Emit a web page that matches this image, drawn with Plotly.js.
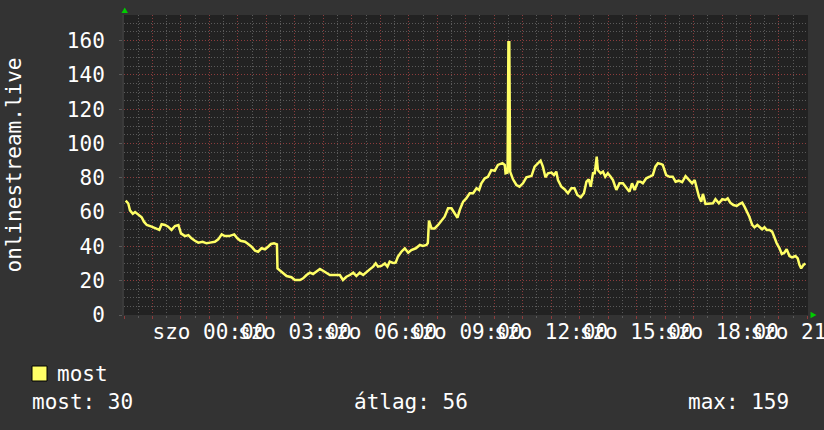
<!DOCTYPE html>
<html>
<head>
<meta charset="utf-8">
<script src="https://cdn.plot.ly/plotly-3.0.1.min.js"></script>
<style>
html,body{margin:0;padding:0;background:#333333;}
#chart{width:824px;height:430px;}
</style>
</head>
<body>
<div id="chart"></div>
<script>
// Time in hours relative to Saturday 00:00 (negative = Friday evening)
const hours = [
-2.94,-2.85,-2.79,-2.69,-2.61,-2.53,-2.46,-2.38,-2.30,-2.20,-2.03,-1.85,-1.76,-1.68,-1.56,-1.45,-1.33,-1.21,-1.09,-1.00,
-0.86,-0.74,-0.63,-0.51,-0.39,-0.24,-0.10,0.02,0.19,0.31,0.43,0.54,0.69,0.87,0.98,1.09,1.25,1.36,1.48,1.60,1.71,
1.83,1.95,2.06,2.16,2.27,2.37,2.39,2.53,2.71,2.88,3.00,3.18,3.29,3.41,3.53,3.64,3.76,3.88,3.99,4.11,
4.23,4.40,4.58,4.69,4.81,4.93,5.05,5.16,5.28,5.40,5.52,5.63,5.75,5.84,5.92,6.04,6.16,6.25,6.33,6.45,
6.54,6.62,6.74,6.86,6.98,7.09,7.25,7.39,7.50,7.62,7.67,7.71,7.80,7.91,8.03,8.15,8.26,8.38,8.50,8.61,
8.71,8.79,8.91,9.02,9.14,9.26,9.38,9.47,9.55,9.67,9.78,9.90,10.02,10.13,10.29,10.37,10.40,10.47,10.50,10.53,
10.56,10.66,10.78,10.89,11.01,11.13,11.25,
11.31,11.42,11.54,11.63,11.71,11.80,11.89,12.01,12.10,12.18,12.24,12.36,12.47,12.59,12.71,12.82,12.92,13.04,13.15,13.24,
13.32,13.39,13.47,13.53,13.60,13.64,13.74,13.82,13.90,13.99,14.09,14.17,14.29,14.40,14.52,14.64,14.75,14.84,14.93,15.05,
15.14,15.22,15.34,15.46,15.57,15.66,15.75,15.87,
15.92,16.04,16.16,16.27,16.37,16.48,16.60,16.72,16.84,16.95,17.04,17.09,17.19,17.27,17.33,17.42,17.56,17.68,17.77,17.89,
18.01,18.12,18.20,18.29,18.40,18.52,18.61,18.71,18.79,18.87,18.96,19.06,19.14,19.24,19.32,19.41,19.49,19.57,19.67,19.76,
19.84,19.92,20.02,20.10,20.19,20.27,20.37,20.46,20.58,20.66,20.72,20.78,20.86,20.93
];
const listeners = [
66.7,65,61,59,60,59,58,57,54.4,52.5,51.5,50,49.6,52.9,52.5,51.5,49.6,51.9,52.5,47.6,
46,46.6,44.7,43.3,42.2,42.7,41.8,42.2,42.7,44.1,47,46,46,47,44.7,43.3,42.7,41.4,39.8,37.5,36.9,
38.9,38.3,39.8,41.4,41.8,41.2,27.2,25.3,22.7,22,20.4,20.4,21.4,23.3,24.7,23.9,25.3,26.8,25.8,24.3,
23.3,23.3,23.3,20.4,22.3,23.3,24.7,22.7,24.7,23.3,25.3,26.6,28.2,30.1,28.2,28.6,30.1,28.2,31.1,30.3,
30.5,34,36.9,38.9,36.3,37.9,38.9,40.8,40.2,40.8,42,55,50.5,50.5,52.5,55.4,57.3,62.2,62.2,59.3,
56.7,61.2,66.1,68,71,71,73.9,72.9,76.8,79.7,80.6,84.5,84.1,87.5,88.5,87.5,82.6,83,159,159,
83.6,79.1,75.8,74.8,76.8,80.3,80.6,
81,86.5,88.8,90,86.5,80.3,82.6,83,81.6,83.6,78.7,74.8,73.3,71,73.9,73.9,70,68.6,71,77.7,
79.1,74.8,82.6,82.6,92.3,84.5,82.6,83.6,80.6,82.6,80.6,78.7,72.9,76.8,76.8,73.9,71.9,76.8,72.9,77.7,
77.7,76.8,79.7,80.6,81.6,86.5,88.5,88,
87.5,81.6,80.6,80.6,77.7,78.3,77.4,81,79.1,76.8,78.7,74.8,69,66.1,70.6,64.7,64.7,65.1,67.5,65.1,
67.5,67.1,68,65.5,64.1,63.6,64.7,65.5,63.2,60.8,57.3,52.5,51.1,52.5,51.5,50,51.1,49.6,49.6,48.6,
45.3,41.8,38.9,35.6,36.3,38.3,34.4,33.6,34.4,33,29.2,27.2,29.2,30
];

// Axis ticks
const gridHours = [-3,-2,-1,0,1,2,3,4,5,6,7,8,9,10,11,12,13,14,15,16,17,18,19,20,21];
const labelHours = [0,3,6,9,12,15,18,21];
const labelTexts = ['szo 00:00','szo 03:00','szo 06:00','szo 09:00','szo 12:00','szo 15:00','szo 18:00','szo 21:00'];
const yTicks = [0,20,40,60,80,100,120,140,160];

// Legend / summary
const seriesName = 'most';
const statLabels = ['most','átlag','max'];
const statValues = [30,56,159];

const FONT = 'DejaVu Sans Mono, monospace';
const W = 824, H = 430, ML = 124, MR = 16, MT = 15, MB = 115;
const PW = W - ML - MR, PH = H - MT - MB;
const px = v => (v - ML) / PW;     // pixel -> paper x
const py = v => (MT + PH - v) / PH; // pixel -> paper y

const xTickText = gridHours.map(h => {
  const i = labelHours.indexOf(h);
  return i >= 0 ? labelTexts[i] : '';
});

const trace = {
  x: hours, y: listeners, type: 'scatter', mode: 'lines', name: seriesName,
  line: {color: '#ffff66', width: 2.5}, hoverinfo: 'skip', showlegend: false
};

const gridMinor = '#5a5a5a';
const gridMajor = '#8c3c3c';

const layout = {
  width: W, height: H,
  margin: {l: ML, r: MR, t: MT, b: MB, pad: 0},
  paper_bgcolor: '#333333', plot_bgcolor: '#222222',
  font: {family: FONT, size: 21, color: '#ffffff'},
  showlegend: false,
  xaxis: {
    range: [-3, 21.02], tickmode: 'array', tickvals: gridHours, ticktext: xTickText,
    tickangle: 0, ticklabeloverflow: 'allow', ticklabelstandoff: -5,
    showgrid: true, gridcolor: gridMajor, griddash: '1px,2px', gridwidth: 1,
    ticks: 'outside', ticklen: 3, tickcolor: gridMajor, tickwidth: 1,
    zeroline: false, showline: false, fixedrange: true,
    tickfont: {family: FONT, size: 21, color: '#ffffff'},
    minor: {tickmode: 'linear', tick0: 0, dtick: 0.5, showgrid: true, gridcolor: gridMinor, griddash: '1px,2px', gridwidth: 1, ticks: 'outside', ticklen: 2, tickcolor: gridMinor}
  },
  yaxis: {
    range: [0, 174.9], tickmode: 'array', tickvals: yTicks, ticktext: yTicks.map(String),
    showgrid: true, gridcolor: gridMajor, griddash: '1px,2px', gridwidth: 1,
    ticks: 'outside', ticklen: 3, tickcolor: gridMinor, tickwidth: 1,
    ticklabelstandoff: 10,
    zeroline: false, showline: true, linecolor: '#3a3a3a', linewidth: 2, fixedrange: true,
    tickfont: {family: FONT, size: 21, color: '#ffffff'},
    title: {text: 'onlinestream.live', font: {family: FONT, size: 21, color: '#ffffff'}, standoff: 40},
    minor: {tickmode: 'linear', tick0: 0, dtick: 5, showgrid: true, gridcolor: gridMinor, griddash: '1px,2px', gridwidth: 1}
  },
  shapes: [
    // green axis arrows
    {type: 'path', xref: 'paper', yref: 'paper', path: `M ${px(121.5)} ${py(13)} L ${px(128)} ${py(13)} L ${px(124.7)} ${py(7.5)} Z`, fillcolor: '#00cc00', line: {width: 0}},
    {type: 'path', xref: 'paper', yref: 'paper', path: `M ${px(810.5)} ${py(311.8)} L ${px(816.5)} ${py(315)} L ${px(810.5)} ${py(318.2)} Z`, fillcolor: '#00cc00', line: {width: 0}},
    // legend swatch
    {type: 'rect', xref: 'paper', yref: 'paper', x0: px(32), x1: px(47), y0: py(381), y1: py(366), fillcolor: '#ffff66', line: {color: '#000000', width: 1}}
  ],
  annotations: [
    {xref: 'paper', yref: 'paper', x: px(56), y: py(374), xanchor: 'left', yanchor: 'middle', text: seriesName, showarrow: false, borderpad: 0, font: {family: FONT, size: 21, color: '#ffffff'}},
    {xref: 'paper', yref: 'paper', x: px(31), y: py(402), xanchor: 'left', yanchor: 'middle', text: statLabels[0] + ': ' + statValues[0], showarrow: false, borderpad: 0, font: {family: FONT, size: 21, color: '#ffffff'}},
    {xref: 'paper', yref: 'paper', x: px(353), y: py(402), xanchor: 'left', yanchor: 'middle', text: statLabels[1] + ': ' + statValues[1], showarrow: false, borderpad: 0, font: {family: FONT, size: 21, color: '#ffffff'}},
    {xref: 'paper', yref: 'paper', x: px(687), y: py(402), xanchor: 'left', yanchor: 'middle', text: statLabels[2] + ': ' + statValues[2], showarrow: false, borderpad: 0, font: {family: FONT, size: 21, color: '#ffffff'}}
  ]
};

Plotly.newPlot('chart', [trace], layout, {displayModeBar: false, staticPlot: true});
</script>
</body>
</html>
